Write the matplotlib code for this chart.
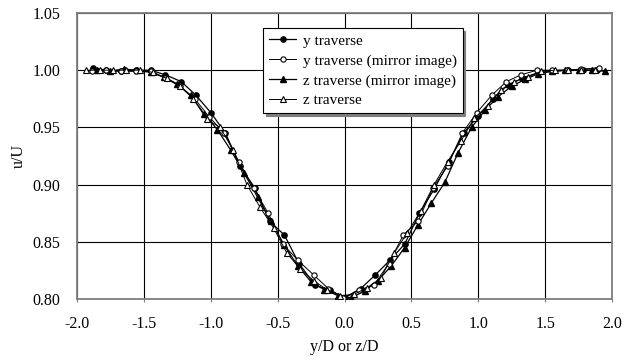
import matplotlib.pyplot as plt

# y traverse
y_x = [-1.88, -1.78, -1.67, -1.56, -1.45, -1.34, -1.22, -1.11, -1.00, -0.89, -0.78, -0.67,
       -0.56, -0.45, -0.34, -0.22, -0.11, 0.00, 0.12, 0.23, 0.34, 0.45, 0.56, 0.67,
       0.78, 0.89, 1.00, 1.11, 1.22, 1.33, 1.45, 1.56, 1.67, 1.78, 1.89]
y_u = [1.002, 1.000, 0.999, 1.000, 1.000, 0.996, 0.990, 0.978, 0.963, 0.945, 0.916, 0.897,
       0.868, 0.856, 0.831, 0.812, 0.808, 0.801, 0.809, 0.821, 0.834, 0.848, 0.875, 0.896,
       0.920, 0.945, 0.960, 0.975, 0.987, 0.993, 0.998, 0.999, 1.000, 1.000, 1.000]

# y traverse (mirror image)
ym_x = [-1.89, -1.78, -1.67, -1.56, -1.45, -1.34, -1.23, -1.12, -1.01, -0.90, -0.79, -0.68,
        -0.57, -0.46, -0.35, -0.23, -0.12, -0.01, 0.11, 0.22, 0.33, 0.44, 0.55, 0.66,
        0.77, 0.88, 0.99, 1.10, 1.21, 1.32, 1.44, 1.55, 1.66, 1.77, 1.90]
ym_u = [0.999, 1.000, 0.999, 0.999, 0.999, 0.993, 0.986, 0.975, 0.959, 0.945, 0.920, 0.897,
        0.875, 0.848, 0.834, 0.821, 0.809, 0.801, 0.808, 0.812, 0.831, 0.856, 0.868, 0.897,
        0.916, 0.945, 0.963, 0.978, 0.990, 0.996, 1.000, 1.000, 1.000, 1.001, 1.002]

# z traverse (mirror image)
zm_x = [-1.85, -1.75, -1.65, -1.55, -1.45, -1.35, -1.25, -1.15, -1.05, -0.95, -0.85, -0.75,
        -0.65, -0.55, -0.45, -0.35, -0.25, -0.15, -0.05, 0.05, 0.15, 0.25, 0.35, 0.45,
        0.55, 0.65, 0.75, 0.85, 0.95, 1.05, 1.15, 1.25, 1.35, 1.45, 1.55, 1.65, 1.75,
        1.85, 1.95]
zm_u = [1.000, 0.999, 1.001, 1.000, 0.998, 0.994, 0.988, 0.978, 0.962, 0.948, 0.930, 0.910,
        0.889, 0.868, 0.847, 0.829, 0.815, 0.808, 0.803, 0.801, 0.807, 0.816, 0.829, 0.845,
        0.865, 0.884, 0.902, 0.928, 0.950, 0.965, 0.977, 0.986, 0.992, 0.997, 0.999, 1.000,
        1.000, 1.000, 0.999]

# z traverse
z_x = [-1.93, -1.83, -1.73, -1.63, -1.53, -1.43, -1.33, -1.23, -1.13, -1.03, -0.93, -0.83,
       -0.73, -0.63, -0.53, -0.43, -0.33, -0.23, -0.13, -0.03, 0.07, 0.17, 0.27, 0.37,
       0.47, 0.57, 0.67, 0.77, 0.87, 0.97, 1.07, 1.17, 1.27, 1.37, 1.47, 1.57, 1.67,
       1.77, 1.87]
z_u = [1.000, 1.000, 1.000, 1.000, 1.000, 0.998, 0.993, 0.986, 0.975, 0.957, 0.950, 0.930,
       0.900, 0.880, 0.862, 0.840, 0.826, 0.816, 0.808, 0.803, 0.804, 0.810, 0.818, 0.840,
       0.858, 0.877, 0.900, 0.920, 0.938, 0.958, 0.969, 0.983, 0.990, 0.994, 0.999, 1.000,
       1.000, 1.000, 1.000]

plt.rcParams['font.family'] = ['Liberation Serif', 'DejaVu Serif']
plt.rcParams['font.size'] = 11.5

fig = plt.figure(figsize=(6.32, 3.61), dpi=100)
ax = fig.add_axes([0.1218, 0.1717, 0.8466, 0.7923])

ax.plot(y_x, y_u, '-', color='black', lw=0.9, marker='o', ms=3.8,
        mfc='black', mec='black', label='y traverse', zorder=4)
ax.plot(ym_x, ym_u, '-', color='black', lw=0.7, marker='o', ms=3.8,
        mfc='white', mec='black', mew=0.8, label='y traverse (mirror image)', zorder=5)
ax.plot(zm_x, zm_u, '-', color='black', lw=0.9, marker='^', ms=3.8,
        mfc='black', mec='black', label='z traverse (mirror image)', zorder=4)
ax.plot(z_x, z_u, '-', color='black', lw=0.7, marker='^', ms=3.8,
        mfc='white', mec='black', mew=0.8, label='z traverse', zorder=5)

ax.set_xlim(-2.0, 2.0)
ax.set_ylim(0.80, 1.05)
ax.set_xticks([-2.0, -1.5, -1.0, -0.5, 0.0, 0.5, 1.0, 1.5, 2.0])
ax.set_yticks([0.80, 0.85, 0.90, 0.95, 1.00, 1.05])
ax.set_xticklabels(['%.1f' % v for v in ax.get_xticks()])
ax.set_yticklabels(['%.2f' % v for v in ax.get_yticks()])
ax.grid(True, color='black', lw=0.8)
ax.set_axisbelow(True)
for s in ax.spines.values():
    s.set_color('#7f7f7f')
    s.set_linewidth(1.3)
ax.tick_params(axis='x', length=2.5, color='#7f7f7f', pad=10)
ax.tick_params(axis='y', length=0, pad=12)

ax.set_xlabel('y/D or z/D', labelpad=5)
ax.set_ylabel('u/U', labelpad=4)

leg = ax.legend(loc='upper left', bbox_to_anchor=(0.333, 0.975), frameon=True,
                fancybox=False, shadow={'color': '#7f7f7f', 'alpha': 1},
                edgecolor='black', framealpha=1, handlelength=1.8, fontsize=11,
                handletextpad=0.4, labelspacing=0.4, borderpad=0.4)
leg.get_frame().set_linewidth(0.8)

fig.savefig('out.png', dpi=100)
